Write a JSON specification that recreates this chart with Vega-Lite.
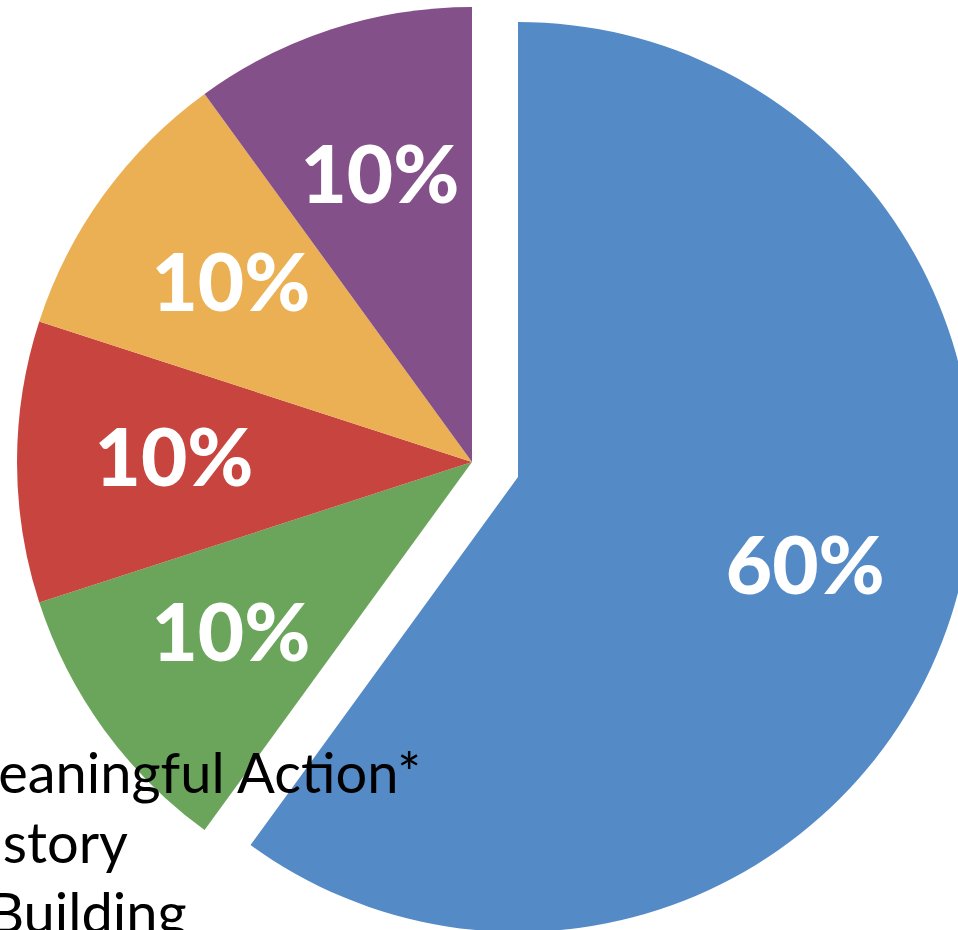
{
  "$schema": "https://vega.github.io/schema/vega-lite/v6.json",
  "width": 944,
  "height": 924,
  "autosize": {"type": "none"},
  "padding": {"left": 0, "top": 0, "right": 14, "bottom": 6},
  "background": "white",
  "config": {"view": {"stroke": null}},
  "data": {
    "values": [
      {"category": "Meaningful Action*", "value": 0.6, "order": 1},
      {"category": "History", "value": 0.1, "order": 2},
      {"category": "\u2800Building", "value": 0.1, "order": 3},
      {"category": "Reflection", "value": 0.1, "order": 4},
      {"category": "Identity", "value": 0.1, "order": 5}
    ]
  },
  "encoding": {
    "theta": {"field": "value", "type": "quantitative", "stack": true},
    "order": {"field": "order", "type": "quantitative"},
    "color": {
      "field": "category",
      "type": "nominal",
      "sort": null,
      "scale": {
        "domain": ["Meaningful Action*", "History", "\u2800Building", "Reflection", "Identity"],
        "range": ["#548ac6", "#6ba55c", "#c8443f", "#ebb053", "#845089"]
      },
      "legend": {
        "orient": "none",
        "legendX": -119,
        "legendY": 748,
        "title": null,
        "labelFont": "Lato",
        "labelFontSize": 56,
        "labelColor": "black",
        "labelLimit": 2000,
        "symbolType": "square",
        "symbolSize": 400,
        "symbolStrokeWidth": 0,
        "labelOffset": 10,
        "rowPadding": 14
      }
    }
  },
  "layer": [
    {
      "mark": {"type": "arc", "radius": 455},
      "encoding": {
        "opacity": {"condition": {"test": "datum.order == 1", "value": 0}, "value": 1}
      }
    },
    {
      "mark": {"type": "arc", "radius": 455, "xOffset": 46, "yOffset": 15},
      "encoding": {
        "opacity": {"condition": {"test": "datum.order == 1", "value": 1}, "value": 0}
      }
    },
    {
      "mark": {"type": "text", "radius": 298, "font": "Lato", "fontWeight": 900, "fontSize": 80, "baseline": "middle", "align": "center"},
      "encoding": {
        "text": {"field": "value", "type": "quantitative", "format": ".0%"},
        "color": {"value": "white"},
        "opacity": {"condition": {"test": "datum.order == 1", "value": 0}, "value": 1}
      }
    },
    {
      "mark": {"type": "text", "radius": 302, "xOffset": 46, "yOffset": 15, "font": "Lato", "fontWeight": 900, "fontSize": 80, "baseline": "middle", "align": "center"},
      "encoding": {
        "text": {"field": "value", "type": "quantitative", "format": ".0%"},
        "color": {"value": "white"},
        "opacity": {"condition": {"test": "datum.order == 1", "value": 1}, "value": 0}
      }
    }
  ]
}
